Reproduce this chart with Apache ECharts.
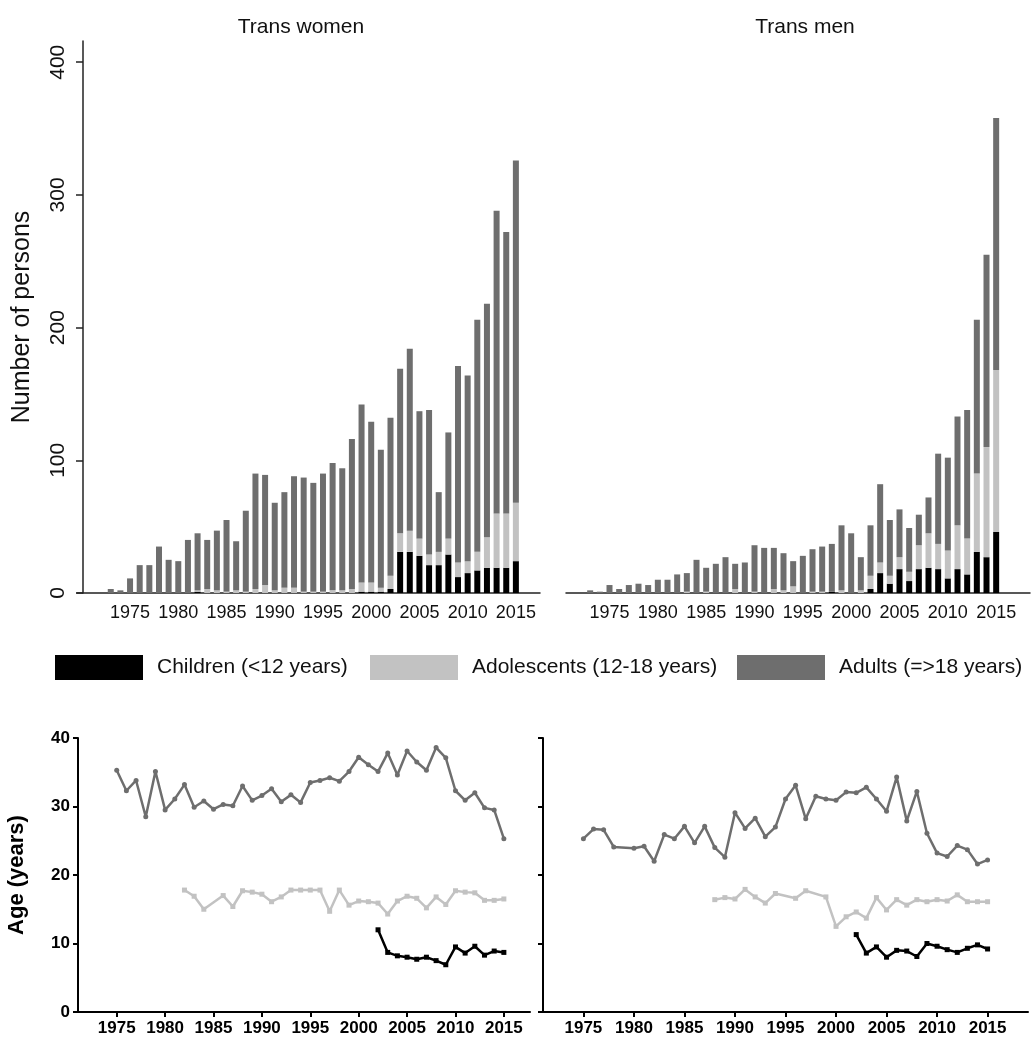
<!DOCTYPE html>
<html>
<head>
<meta charset="utf-8">
<script src="https://cdn.jsdelivr.net/npm/echarts@6/dist/echarts.min.js"></script>
<style>
  html, body { margin: 0; padding: 0; background: #fff; }
  #main { width: 1031px; height: 1040px; }
</style>
</head>
<body>
<div id="main"></div>
<script>
// category slots of the two bar panels (axis range, includes empty years)
var womenSlots = ['1970', '1971', '1972', '1973', '1974', '1975', '1976', '1977', '1978', '1979',
  '1980', '1981', '1982', '1983', '1984', '1985', '1986', '1987', '1988', '1989', '1990', '1991',
  '1992', '1993', '1994', '1995', '1996', '1997', '1998', '1999', '2000', '2001', '2002', '2003',
  '2004', '2005', '2006', '2007', '2008', '2009', '2010', '2011', '2012', '2013', '2014', '2015',
  '2016', '2017'];
var menSlots = ['1971', '1972', '1973', '1974', '1975', '1976', '1977', '1978', '1979',
  '1980', '1981', '1982', '1983', '1984', '1985', '1986', '1987', '1988', '1989', '1990', '1991',
  '1992', '1993', '1994', '1995', '1996', '1997', '1998', '1999', '2000', '2001', '2002', '2003',
  '2004', '2005', '2006', '2007', '2008', '2009', '2010', '2011', '2012', '2013', '2014', '2015',
  '2016', '2017', '2018'];

// years shown as bars (top panels)
var barYears = ['1973', '1974', '1975', '1976', '1977', '1978', '1979', '1980', '1981', '1982', '1983',
  '1984', '1985', '1986', '1987', '1988', '1989', '1990', '1991', '1992', '1993', '1994', '1995',
  '1996', '1997', '1998', '1999', '2000', '2001', '2002', '2003', '2004', '2005', '2006', '2007',
  '2008', '2009', '2010', '2011', '2012', '2013', '2014', '2015'];

// trans women, number of persons
var twChildren = [0, 0, 0, 0, 0, 0, 0, 0, 0, 1, 0, 0, 0, 0, 0,
  0, 0, 0, 0, 0, 0, 0, 0, 0, 0, 0, 1, 1, 1, 3, 31,
  31, 28, 21, 21, 29, 12, 15, 17, 19, 19, 19, 24];
var twAdolescents = [0, 0, 0, 0, 0, 0, 0, 0, 0, 1, 3, 2, 1, 2, 1,
  3, 6, 2, 4, 4, 1, 1, 1, 2, 2, 3, 7, 7, 3, 10, 14,
  16, 13, 8, 10, 12, 11, 9, 14, 23, 41, 41, 44];
var twAdults = [3, 2, 11, 21, 21, 35, 25, 24, 40, 43, 37, 45, 54, 37, 61,
  87, 83, 66, 72, 84, 86, 82, 89, 96, 92, 113, 134, 121, 104, 119, 124,
  137, 96, 109, 45, 80, 148, 140, 175, 176, 228, 212, 258];

// trans men, number of persons
var tmChildren = [0, 0, 0, 0, 0, 0, 0, 0, 0, 0, 0, 0, 0, 0, 0,
  0, 0, 0, 0, 0, 0, 0, 0, 0, 0, 1, 0, 0, 0, 3, 15,
  7, 18, 9, 18, 19, 18, 11, 18, 14, 31, 27, 46];
var tmAdolescents = [0, 0, 0, 0, 0, 0, 0, 0, 0, 0, 1, 0, 1, 0, 0,
  3, 0, 1, 0, 3, 2, 5, 0, 1, 1, 0, 2, 0, 2, 10, 8,
  6, 9, 7, 18, 26, 19, 21, 33, 27, 59, 83, 122];
var tmAdults = [2, 1, 6, 3, 6, 7, 6, 10, 10, 14, 14, 25, 18, 22, 27,
  19, 23, 35, 34, 31, 28, 19, 28, 32, 34, 36, 49, 45, 25, 38, 59,
  42, 36, 33, 23, 27, 68, 70, 82, 97, 116, 145, 190];

// years of the age panels (bottom)
var ageYears = [1975, 1976, 1977, 1978, 1979, 1980, 1981, 1982, 1983, 1984, 1985, 1986, 1987, 1988,
  1989, 1990, 1991, 1992, 1993, 1994, 1995, 1996, 1997, 1998, 1999, 2000, 2001, 2002,
  2003, 2004, 2005, 2006, 2007, 2008, 2009, 2010, 2011, 2012, 2013, 2014, 2015];

// trans women, mean age (years)
var twAgeAdults = [35.3, 32.3, 33.8, 28.5, 35.1, 29.5, 31.1, 33.2, 29.9, 30.8, 29.6, 30.3, 30.1, 33.0,
  30.9, 31.6, 32.6, 30.7, 31.7, 30.6, 33.5, 33.8, 34.2, 33.7, 35.1, 37.2, 36.1, 35.1,
  37.8, 34.6, 38.1, 36.5, 35.3, 38.6, 37.1, 32.3, 30.9, 32.0, 29.8, 29.5, 25.3];
var twAgeAdolescents = [null, null, null, null, null, null, null, 17.8, 16.9, 15.0, null, 17.0, 15.4, 17.7,
  17.5, 17.2, 16.1, 16.8, 17.8, 17.8, 17.8, 17.8, 14.7, 17.8, 15.6, 16.2, 16.1, 15.9,
  14.3, 16.2, 16.9, 16.6, 15.2, 16.8, 15.7, 17.7, 17.5, 17.4, 16.3, 16.3, 16.5];
var twAgeChildren = [null, null, null, null, null, null, null, null, null, null, null, null, null, null,
  null, null, null, null, null, null, null, null, null, null, null, null, null, 12.0,
  8.7, 8.2, 8.0, 7.7, 8.0, 7.5, 6.9, 9.5, 8.6, 9.6, 8.3, 8.9, 8.7];

// trans men, mean age (years)
var tmAgeAdults = [25.3, 26.7, 26.6, 24.1, null, 23.9, 24.2, 22.0, 25.9, 25.3, 27.1, 24.7, 27.1, 24.0,
  22.6, 29.1, 26.8, 28.3, 25.6, 27.0, 31.1, 33.1, 28.2, 31.5, 31.1, 30.9, 32.1, 32.0,
  32.8, 31.1, 29.3, 34.3, 27.9, 32.2, 26.1, 23.2, 22.7, 24.3, 23.7, 21.6, 22.2];
var tmAgeAdolescents = [null, null, null, null, null, null, null, null, null, null, null, null, null, 16.4,
  16.7, 16.5, 17.9, 16.8, 15.9, 17.3, null, 16.6, 17.7, null, 16.8, 12.5, 13.9, 14.6,
  13.7, 16.7, 14.9, 16.4, 15.6, 16.4, 16.1, 16.4, 16.2, 17.1, 16.1, 16.1, 16.1];
var tmAgeChildren = [null, null, null, null, null, null, null, null, null, null, null, null, null, null,
  null, null, null, null, null, null, null, null, null, null, null, null, null, 11.3,
  8.6, 9.5, 8.0, 9.0, 8.9, 8.1, 10.0, 9.6, 9.1, 8.7, 9.3, 9.8, 9.2];

var yearTicks = [1975, 1980, 1985, 1990, 1995, 2000, 2005, 2010, 2015];
var countTicks = [0, 100, 200, 300, 400];
var ageTicks = [0, 10, 20, 30, 40];

var groupNames = ['Children (<12 years)', 'Adolescents (12-18 years)', 'Adults (=>18 years)'];
var groupColors = ['#000000', '#c2c2c2', '#6e6e6e'];
var FONT = 'Liberation Sans, Arial, sans-serif';

function pairs(xs, vs) {
  var out = [];
  for (var i = 0; i < xs.length; i++) {
    if (vs[i] !== null) out.push([xs[i], vs[i]]);
  }
  return out;
}
function plainYear(v) { return String(v); }
function isTickYear(index, value) { return yearTicks.indexOf(+value) >= 0; }

var chart = echarts.init(document.getElementById('main'));

function barAxisX(idx, slots) {
  return {
    type: 'category', gridIndex: idx, data: slots, boundaryGap: true,
    axisLine: { show: true, lineStyle: { color: '#222', width: 1.5 } },
    axisTick: { show: false },
    splitLine: { show: false },
    axisLabel: { interval: isTickYear, margin: 11, fontSize: 18, color: '#111', fontFamily: FONT }
  };
}
function ageAxisX(idx, max) {
  return {
    type: 'value', gridIndex: idx, min: 1971, max: max,
    axisLine: { show: true, lineStyle: { color: '#000', width: 2 } },
    axisTick: { show: true, customValues: yearTicks, length: 5, lineStyle: { color: '#000', width: 2 } },
    splitLine: { show: false },
    axisLabel: { customValues: yearTicks, formatter: plainYear, margin: 8, fontSize: 17, fontWeight: 'bold', color: '#000', fontFamily: FONT }
  };
}

var series = [];
var barSets = [[twChildren, twAdolescents, twAdults], [tmChildren, tmAdolescents, tmAdults]];
barSets.forEach(function (set, g) {
  set.forEach(function (vals, k) {
    series.push({
      name: groupNames[k], type: 'bar', stack: 'persons' + g,
      xAxisIndex: g, yAxisIndex: g, barWidth: 6,
      itemStyle: { color: groupColors[k] },
      data: pairs(barYears, vals)
    });
  });
});
var ageSets = [[twAgeChildren, twAgeAdolescents, twAgeAdults], [tmAgeChildren, tmAgeAdolescents, tmAgeAdults]];
var symbols = ['rect', 'rect', 'circle'];
ageSets.forEach(function (set, g) {
  set.forEach(function (vals, k) {
    series.push({
      name: groupNames[k], type: 'line',
      xAxisIndex: g + 2, yAxisIndex: g + 2,
      symbol: symbols[k], symbolSize: 5, showSymbol: true,
      lineStyle: { color: groupColors[k], width: 2.5 },
      itemStyle: { color: groupColors[k] },
      data: pairs(ageYears, vals)
    });
  });
});

var legendLefts = [55, 370, 737];

chart.setOption({
  animation: false,
  backgroundColor: '#fff',
  textStyle: { fontFamily: FONT },
  title: [
    { text: 'Trans women', left: 296, top: 12, textAlign: 'center',
      textStyle: { fontSize: 21, fontWeight: 'normal', color: '#111', fontFamily: FONT } },
    { text: 'Trans men', left: 800, top: 12, textAlign: 'center',
      textStyle: { fontSize: 21, fontWeight: 'normal', color: '#111', fontFamily: FONT } }
  ],
  legend: legendLefts.map(function (x, k) {
    return {
      data: [groupNames[k]], left: x, top: 655, padding: 0, icon: 'rect',
      itemWidth: 88, itemHeight: 25, selectedMode: false,
      textStyle: { fontSize: 21, color: '#111', fontFamily: FONT, padding: [0, 0, 0, 9] }
    };
  }),
  grid: [
    { left: 77, top: 41, width: 463, height: 552 },
    { left: 566, top: 41, width: 464, height: 552 },
    { left: 78, top: 738, width: 452, height: 274 },
    { left: 543, top: 738, width: 485, height: 274 }
  ],
  xAxis: [
    barAxisX(0, womenSlots),
    barAxisX(1, menSlots),
    ageAxisX(2, 2017.7),
    ageAxisX(3, 2019)
  ],
  yAxis: [
    {
      type: 'value', gridIndex: 0, min: 0, max: 416, offset: -6,
      name: 'Number of persons', nameLocation: 'middle', nameGap: 48,
      nameTextStyle: { fontSize: 25, color: '#111', fontFamily: FONT },
      axisLine: { show: true, lineStyle: { color: '#222', width: 1.5 } },
      axisTick: { show: true, customValues: countTicks, length: 7, lineStyle: { color: '#222', width: 1.5 } },
      splitLine: { show: false },
      axisLabel: { customValues: countTicks, rotate: 90, margin: 14, fontSize: 21, color: '#111', fontFamily: FONT }
    },
    { type: 'value', gridIndex: 1, min: 0, max: 416, show: false, splitLine: { show: false } },
    {
      type: 'value', gridIndex: 2, min: 0, max: 40,
      name: 'Age (years)', nameLocation: 'middle', nameGap: 50,
      nameTextStyle: { fontSize: 22, fontWeight: 'bold', color: '#000', fontFamily: FONT },
      axisLine: { show: true, lineStyle: { color: '#000', width: 2 } },
      axisTick: { show: true, customValues: ageTicks, length: 5, lineStyle: { color: '#000', width: 2 } },
      splitLine: { show: false },
      axisLabel: { customValues: ageTicks, margin: 8, fontSize: 17, fontWeight: 'bold', color: '#000', fontFamily: FONT }
    },
    {
      type: 'value', gridIndex: 3, min: 0, max: 40,
      axisLine: { show: true, lineStyle: { color: '#000', width: 2 } },
      axisTick: { show: true, customValues: ageTicks, length: 5, lineStyle: { color: '#000', width: 2 } },
      splitLine: { show: false },
      axisLabel: { show: false }
    }
  ],
  series: series
});
</script>
</body>
</html>
